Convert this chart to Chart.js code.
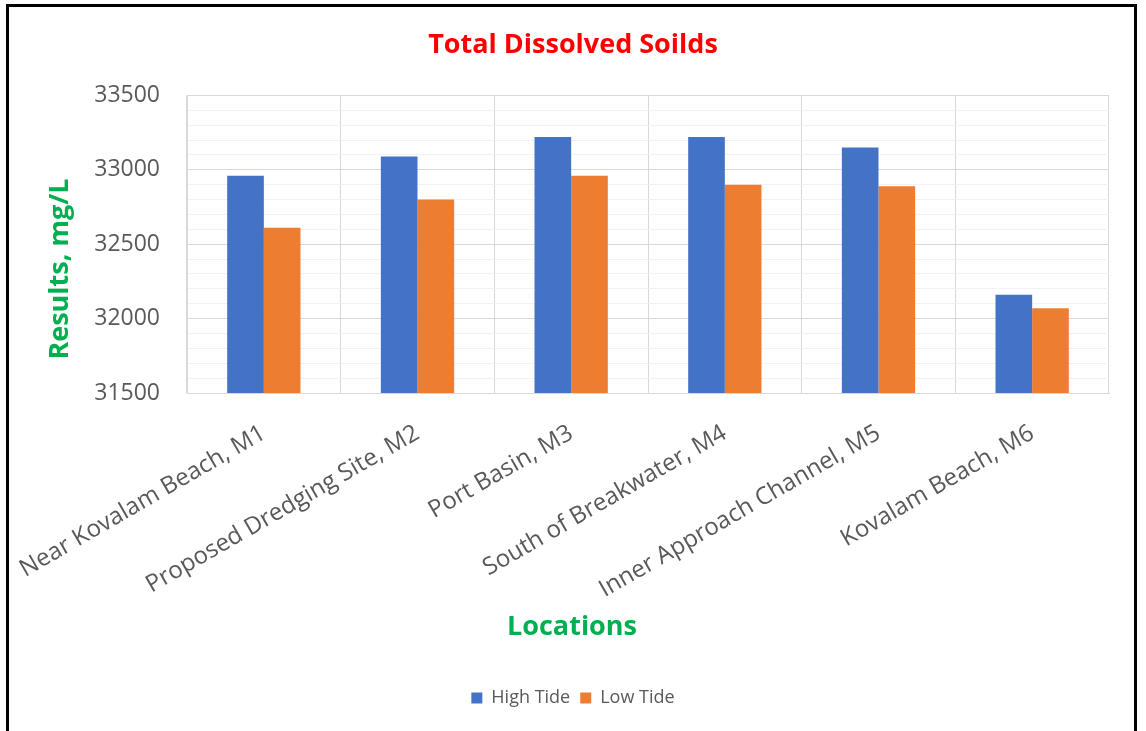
<!DOCTYPE html>
<html>
<head>
<meta charset="utf-8">
<script src="https://cdn.jsdelivr.net/npm/chart.js@4"></script>
<style>
  body { margin: 0; background: #fff; overflow: hidden; }
  #frame { position: absolute; left: 6px; top: 4px; width: 1131px; height: 800px; border: 3px solid #000; box-sizing: border-box; }
  #wrap { position: absolute; left: 0; top: 0; width: 1146px; height: 731px; }
</style>
</head>
<body>
<div id="frame"></div>
<div id="wrap"><canvas id="tdsChart"></canvas></div>
<script>
const locations = ['Near Kovalam Beach, M1', 'Proposed Dredging Site, M2', 'Port Basin, M3', 'South of Breakwater, M4', 'Inner Approach Channel, M5', 'Kovalam Beach, M6'];
const highTide = [32960, 33090, 33220, 33220, 33150, 32160];
const lowTide = [32610, 32800, 32960, 32900, 32890, 32070];
const yMin = 31500;
const yMax = 33500;

const grey = '#595959';
const green = '#00B050';

// axis titles drawn by hand: in the original they are not centred on the plot
const axisTitles = {
    id: 'axisTitles',
    afterDraw(chart) {
        const c = chart.ctx;
        c.save();
        c.font = 'bold 27px "Open Sans"';
        c.fillStyle = green;
        c.textAlign = 'center';
        c.textBaseline = 'middle';
        c.fillText('Locations', 572, 627);
        c.translate(60, 269);
        c.rotate(-Math.PI / 2);
        c.fillText('Results, mg/L', 0, 0);
        c.restore();
    }
};

const ctx = document.getElementById('tdsChart').getContext('2d');
new Chart(ctx, {
    type: 'bar',
    data: {
        labels: locations,
        datasets: [
            { label: 'High Tide', data: highTide, backgroundColor: '#4472C4', categoryPercentage: 0.477, barPercentage: 1 },
            { label: 'Low Tide', data: lowTide, backgroundColor: '#ED7D31', categoryPercentage: 0.477, barPercentage: 1 }
        ]
    },
    options: {
        responsive: true,
        maintainAspectRatio: false,
        animation: false,
        layout: { padding: { left: 0, right: 0, top: 0, bottom: 14 } },
        plugins: {
            title: {
                display: true,
                text: 'Total Dissolved Soilds',
                color: '#FF0000',
                font: { family: 'Open Sans', size: 27, weight: 'bold' },
                padding: { top: 29, bottom: 34 }
            },
            legend: {
                position: 'bottom',
                labels: {
                    color: grey,
                    font: { family: 'Open Sans', size: 18 },
                    boxWidth: 11,
                    boxHeight: 11,
                    padding: 10
                }
            },
            tooltip: { enabled: false }
        },
        scales: {
            x: {
                grid: { color: '#d9d9d9', drawTicks: false },
                border: { color: '#d9d9d9' },
                ticks: {
                    color: grey,
                    font: { family: 'Open Sans', size: 24 },
                    maxRotation: 30,
                    minRotation: 30,
                    autoSkip: false,
                    padding: 26
                },
                afterFit(scale) {
                    scale.height = 286;
                    // long rotated first label must not push the plot to the right
                    scale.paddingLeft = 0;
                    scale.paddingRight = 0;
                }
            },
            y: {
                min: yMin,
                max: yMax,
                grid: {
                    drawTicks: false,
                    color: c => (c.tick && c.tick.value % 500 === 0) ? '#d9d9d9' : '#f2f2f2'
                },
                border: { color: '#d9d9d9' },
                ticks: {
                    stepSize: 100,
                    autoSkip: false,
                    color: grey,
                    font: { family: 'Open Sans', size: 23 },
                    padding: 27,
                    callback: v => v % 500 === 0 ? String(v) : ''
                },
                afterFit(scale) { scale.width = 187; }
            },
            // empty axis on the right, only there to keep space beside the plot
            spacer: {
                type: 'linear',
                position: 'right',
                grid: { display: false },
                border: { display: false },
                ticks: { display: false },
                afterFit(scale) { scale.width = 37; }
            }
        }
    },
    plugins: [axisTitles]
});
</script>
</body>
</html>
